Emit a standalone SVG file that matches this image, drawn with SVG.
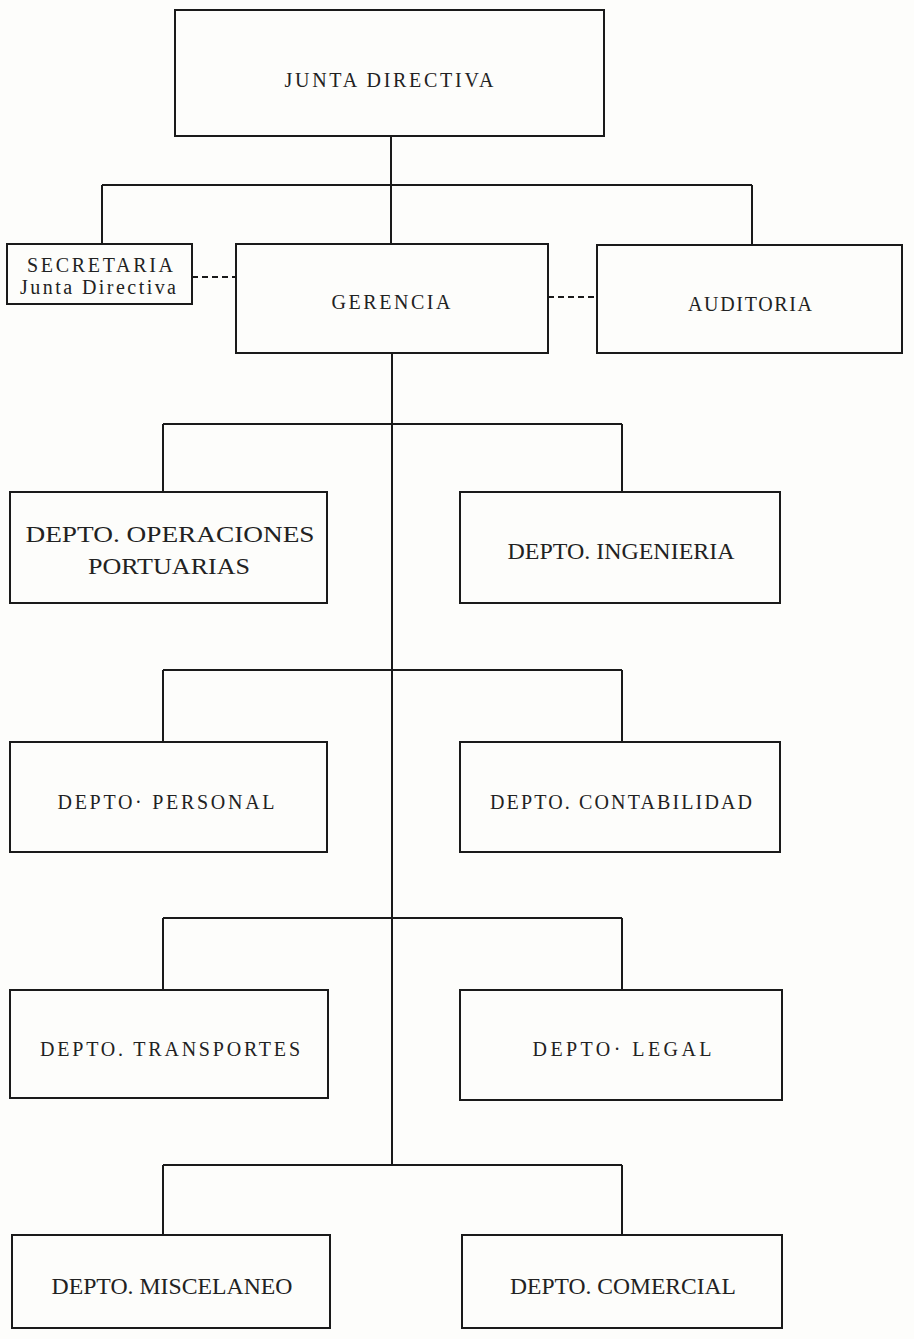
<svg xmlns="http://www.w3.org/2000/svg" width="914" height="1339" viewBox="0 0 914 1339">
<style>
.box{fill:none;stroke:#1a1a1a;stroke-width:2}
.ln{fill:none;stroke:#1a1a1a;stroke-width:2}
.dash{fill:none;stroke:#1a1a1a;stroke-width:2;stroke-dasharray:6 4}
text{font-family:"Liberation Serif","Times New Roman",serif;font-size:20px;fill:#222;text-anchor:middle}
.c{font-size:23px}
</style>
<rect width="914" height="1339" fill="#fdfdfb"/>
<g id="connectors">
<path class="ln" d="M391 136V244M102 185H752M102 185V244M752 185V245"/>
<path class="dash" d="M192 277H236M548 297H597"/>
<path class="ln" d="M392 353V1165"/>
<path class="ln" d="M163 424H622M163 424V492M622 424V492"/>
<path class="ln" d="M163 670H622M163 670V742M622 670V742"/>
<path class="ln" d="M163 918H622M163 918V990M622 918V990"/>
<path class="ln" d="M163 1165H622M163 1165V1235M622 1165V1235"/>
</g>
<g id="junta"><rect class="box" x="175" y="10" width="429" height="126"/><text x="389" y="87" textLength="209" lengthAdjust="spacing">JUNTA DIRECTIVA</text></g>
<g id="secretaria"><rect class="box" x="7" y="244" width="185" height="60"/><text x="100" y="272" textLength="146" lengthAdjust="spacing">SECRETARIA</text><text x="98" y="294" textLength="156" lengthAdjust="spacing">Junta Directiva</text></g>
<g id="gerencia"><rect class="box" x="236" y="244" width="312" height="109"/><text x="391" y="309" textLength="119" lengthAdjust="spacing">GERENCIA</text></g>
<g id="auditoria"><rect class="box" x="597" y="245" width="305" height="108"/><text x="750" y="311" textLength="124" lengthAdjust="spacing">AUDITORIA</text></g>
<g id="operaciones"><rect class="box" x="10" y="492" width="317" height="111"/><text class="c" x="170" y="542" textLength="289" lengthAdjust="spacingAndGlyphs">DEPTO. OPERACIONES</text><text class="c" x="169" y="574" textLength="162" lengthAdjust="spacingAndGlyphs">PORTUARIAS</text></g>
<g id="ingenieria"><rect class="box" x="460" y="492" width="320" height="111"/><text class="c" x="621" y="559" textLength="227" lengthAdjust="spacingAndGlyphs">DEPTO. INGENIERIA</text></g>
<g id="personal"><rect class="box" x="10" y="742" width="317" height="110"/><text x="166" y="809" textLength="217" lengthAdjust="spacing">DEPTO· PERSONAL</text></g>
<g id="contabilidad"><rect class="box" x="460" y="742" width="320" height="110"/><text x="621" y="809" textLength="262" lengthAdjust="spacing">DEPTO. CONTABILIDAD</text></g>
<g id="transportes"><rect class="box" x="10" y="990" width="318" height="108"/><text x="170" y="1056" textLength="260" lengthAdjust="spacing">DEPTO. TRANSPORTES</text></g>
<g id="legal"><rect class="box" x="460" y="990" width="322" height="110"/><text x="622" y="1056" textLength="179" lengthAdjust="spacing">DEPTO· LEGAL</text></g>
<g id="miscelaneo"><rect class="box" x="12" y="1235" width="318" height="93"/><text class="c" x="172" y="1294" textLength="241" lengthAdjust="spacingAndGlyphs">DEPTO. MISCELANEO</text></g>
<g id="comercial"><rect class="box" x="462" y="1235" width="320" height="93"/><text class="c" x="623" y="1294" textLength="226" lengthAdjust="spacingAndGlyphs">DEPTO. COMERCIAL</text></g>
</svg>
